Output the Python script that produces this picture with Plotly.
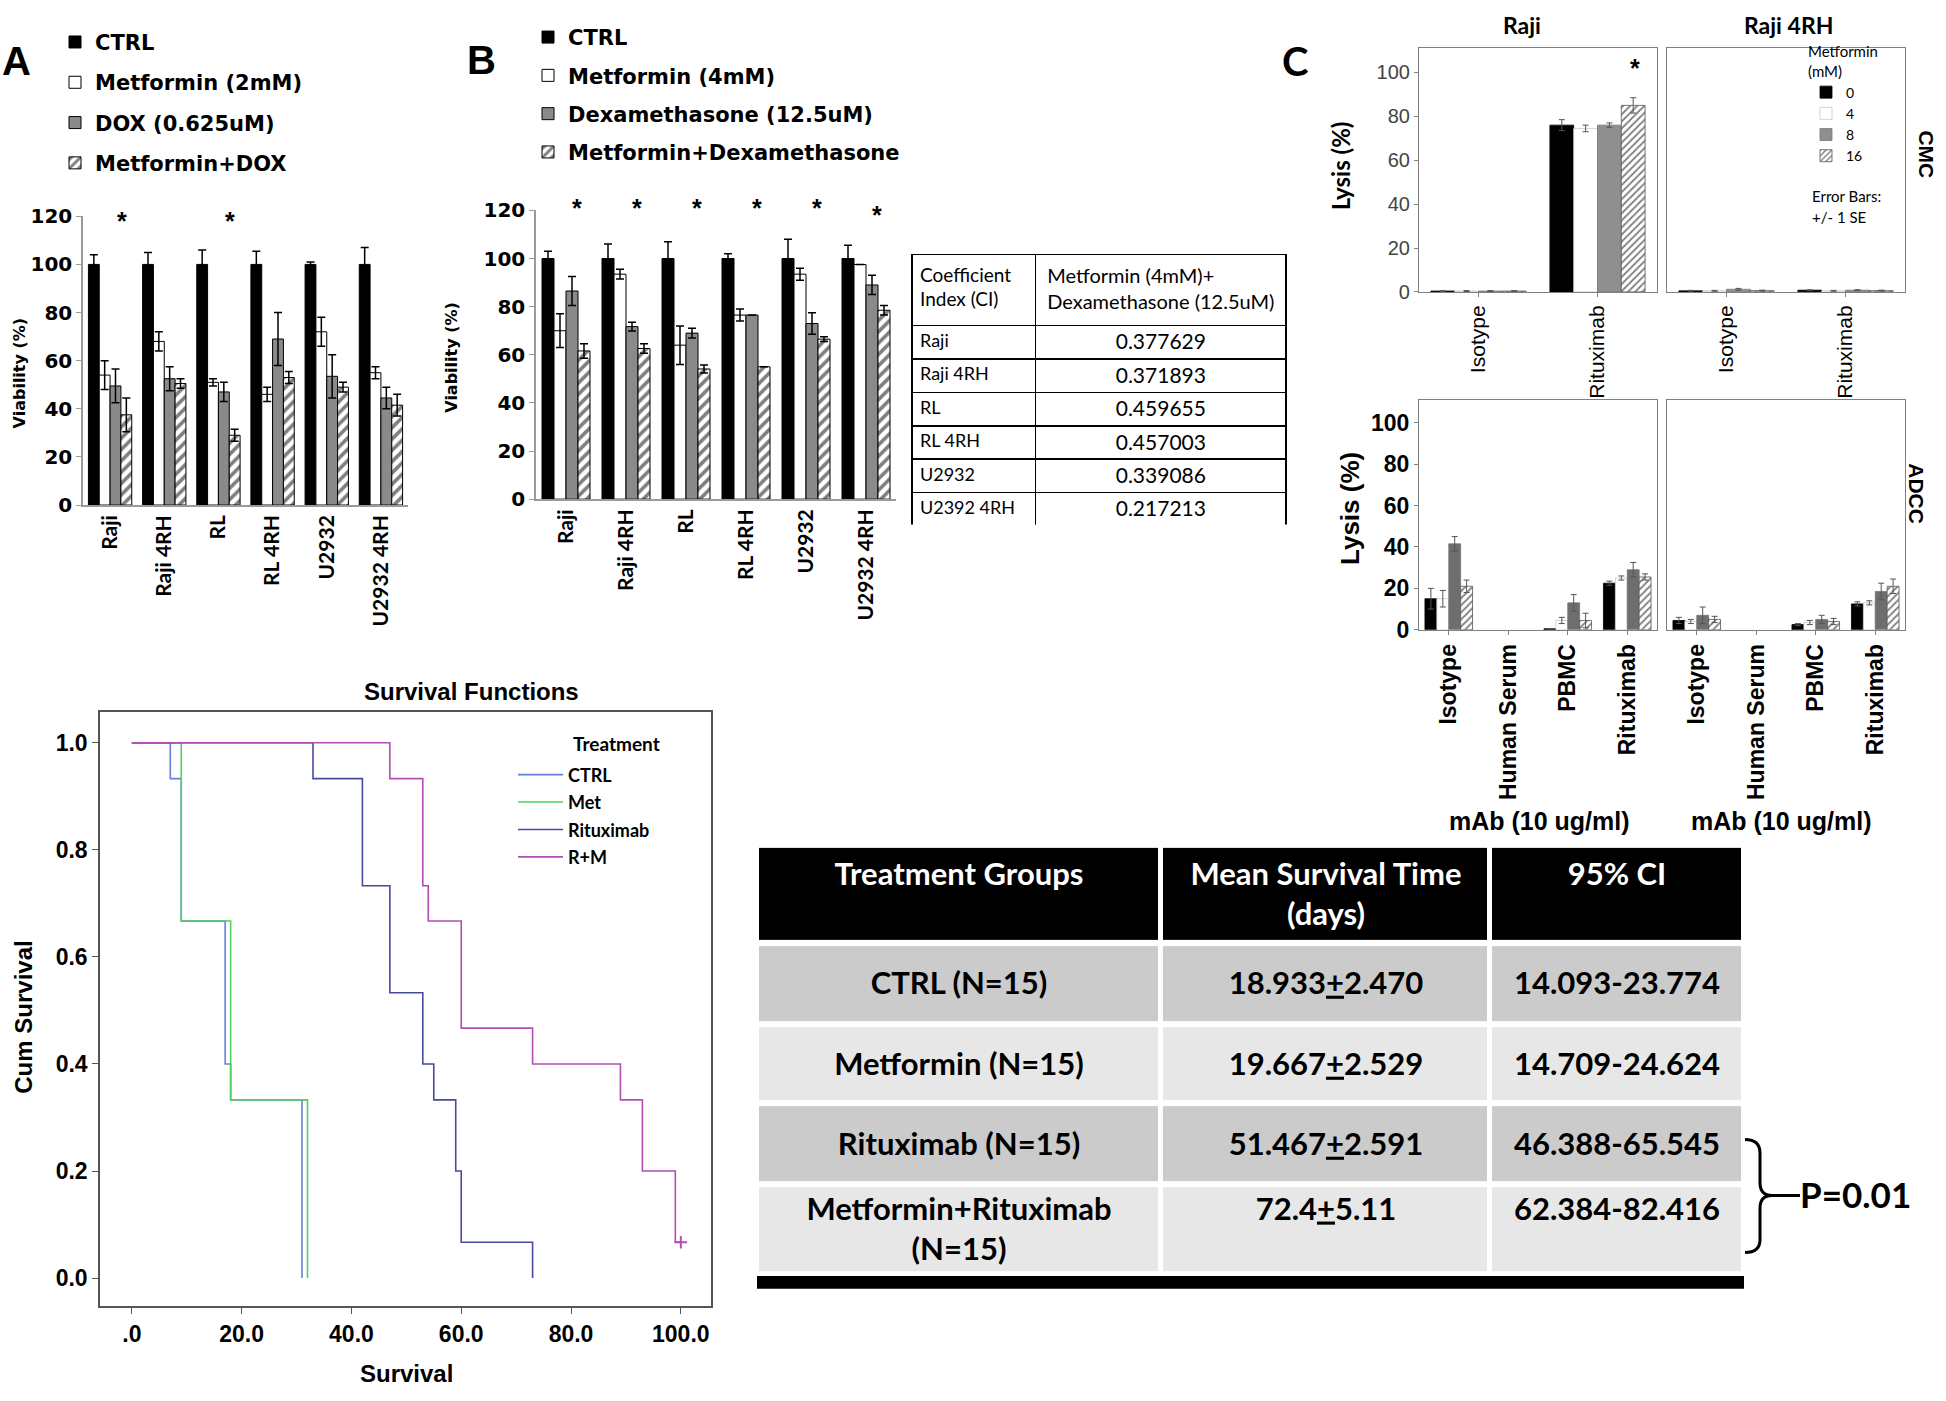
import plotly.graph_objects as go

W, H = 1946, 1401


def X(p):
    return p / W


def Y(p):
    return 1 - p / H


# ---------------- data ----------------
cell_lines = ["Raji", "Raji 4RH", "RL", "RL 4RH", "U2932", "U2932 4RH"]

a_names = ["CTRL", "Metformin (2mM)", "DOX (0.625uM)", "Metformin+DOX"]
a_ctrl = [100, 100, 100, 100, 100, 100]
a_ctrl_err = [4, 5, 6, 5.5, 1, 7]
a_met = [54, 68, 51, 46, 72, 55]
a_met_err = [6, 4, 1.5, 3, 6, 2.5]
a_dox = [49.5, 52.5, 47, 69, 53.5, 44.5]
a_dox_err = [7, 5, 4, 11, 9, 4.5]
a_combo = [37.5, 50.5, 29, 53, 49, 41.5]
a_combo_err = [7, 2, 2.5, 2.5, 2, 4.5]
a_star_lines = ["Raji", "RL"]
a_star_levels = [118, 118]

b_names = ["CTRL", "Metformin (4mM)", "Dexamethasone (12.5uM)", "Metformin+Dexamethasone"]
b_ctrl = [100, 100, 100, 100, 100, 100]
b_ctrl_err = [3, 6, 7, 2, 8, 5.5]
b_met = [70, 93.5, 64, 76.5, 93.5, 97.5]
b_met_err = [7, 2, 8, 2.5, 2.5, 0]
b_dox = [86.5, 71.7, 69, 76.5, 73, 89]
b_dox_err = [6, 1.8, 2, 0, 4.5, 4]
b_combo = [61.6, 62.6, 54.1, 55, 66.5, 78.5]
b_combo_err = [3, 2, 1.7, 0, 1, 2]
b_star_lines = ["Raji", "Raji 4RH", "RL", "RL 4RH", "U2932", "U2932 4RH"]
b_star_levels = [121, 121, 121, 121, 121, 118]

ci_header = ["Coefficient<br>Index (CI)", "Metformin (4mM)+<br>Dexamethasone (12.5uM)"]
ci_lines = ["Raji", "Raji 4RH", "RL", "RL 4RH", "U2932", "U2392 4RH"]
ci_values = ["0.377629", "0.371893", "0.459655", "0.457003", "0.339086", "0.217213"]

c_doses = ["0", "4", "8", "16"]
cmc_mabs = ["Isotype", "Rituximab"]
cmc_raji = [[0.4, 76.0], [0.4, 74.5], [0.4, 76.0], [0.4, 85.0]]
cmc_raji_err = [[0.2, 2.5], [0.2, 1.5], [0.2, 1.0], [0.2, 3.5]]
cmc_raji4rh = [[0.5, 0.8], [0.5, 0.5], [1.2, 0.8], [0.6, 0.6]]
cmc_raji4rh_err = [[0.2, 0.2], [0.2, 0.2], [0.4, 0.2], [0.2, 0.2]]
cmc_star_level = 102

adcc_mabs = ["Isotype", "Human Serum", "PBMC", "Rituximab"]
adcc_raji = [[15, None, 0.5, 22.5], [15, None, 4.5, 25], [41.5, None, 13, 29], [21, None, 4.5, 25.5]]
adcc_raji_err = [[5, 0, 0, 1], [4, 0, 1.5, 1], [3.5, 0, 4, 3.5], [3, 0, 3.5, 1.5]]
adcc_raji4rh = [[4.5, None, 2.5, 12.5], [4, None, 3.5, 13], [7, None, 5, 18.5], [5, None, 4, 21]]
adcc_raji4rh_err = [[1.5, 0, 0.5, 1], [1, 0, 1, 1], [4, 0, 2, 4], [1.5, 0, 1.5, 3.5]]

surv_groups = ["CTRL", "Met", "Rituximab", "R+M"]
surv_ctrl_t = [0, 7, 9, 17, 18, 31]
surv_ctrl_s = [1.0, 0.933, 0.667, 0.4, 0.333, 0.0]
surv_met_t = [0, 9, 18, 32]
surv_met_s = [1.0, 0.667, 0.333, 0.0]
surv_rit_t = [0, 33, 42, 47, 53, 55, 59, 60, 73]
surv_rit_s = [1.0, 0.933, 0.733, 0.533, 0.4, 0.333, 0.2, 0.067, 0.0]
surv_rm_t = [0, 47, 53, 54, 60, 73, 89, 93, 99, 100]
surv_rm_s = [1.0, 0.933, 0.733, 0.667, 0.467, 0.4, 0.333, 0.2, 0.067, 0.067]
surv_rm_censor_t = [100]
surv_rm_censor_s = [0.067]
surv_xticks = [0, 20, 40, 60, 80, 100]
surv_xticklabels = [".0", "20.0", "40.0", "60.0", "80.0", "100.0"]
surv_yticks = [0, 0.2, 0.4, 0.6, 0.8, 1.0]
surv_yticklabels = ["0.0", "0.2", "0.4", "0.6", "0.8", "1.0"]

tbl_header = ["Treatment Groups", "Mean Survival Time<br>(days)", "95% CI"]
tbl_groups = ["CTRL (N=15)", "Metformin (N=15)", "Rituximab (N=15)", "Metformin+Rituximab<br>(N=15)"]
tbl_means = ["18.933<u>+</u>2.470", "19.667<u>+</u>2.529", "51.467<u>+</u>2.591", "72.4<u>+</u>5.11"]
tbl_ci = ["14.093-23.774", "14.709-24.624", "46.388-65.545", "62.384-82.416"]
p_value_text = "P=0.01"

# ---------------- styles ----------------
AB_STY = [
    dict(color="black", line="black", pattern=""),
    dict(color="white", line="black", pattern=""),
    dict(color="#8a8a8a", line="black", pattern=""),
    dict(color="white", line="black", pattern="/"),
]
C_STY = [
    dict(color="black", line="black", pattern=""),
    dict(color="white", line="#c8c8c8", pattern=""),
    dict(color="#8f8f8f", line="#777777", pattern=""),
    dict(color="white", line="#555555", pattern="/"),
]
ADCC_GREY = "#6e6e6e"
SURV_COLORS = ["#6382d6", "#52d060", "#474b9e", "#b04fb4"]
ROW_FILLS = ["#cbcbcb", "#e7e7e7"]

BOLD_DV = "DejaVu Sans"
LATO = "Lato"
ARIAL = "Liberation Sans"

fig = go.Figure()


def add_bar(name, x, y, err, sty, xa, ya, legend, showlegend, group,
            psize=8, solid=0.45, ecolor="black", ethick=1.5, ewidth=4, lw=1, color=None):
    marker = dict(color=color or sty["color"], line=dict(color=sty["line"], width=lw))
    if sty["pattern"]:
        marker["pattern"] = dict(shape=sty["pattern"], fgcolor="black", bgcolor="white",
                                 size=psize, solidity=solid, fillmode="overlay")
    fig.add_trace(go.Bar(
        name=name, x=x, y=y, marker=marker, xaxis=xa, yaxis=ya,
        error_y=dict(type="data", array=err, color=ecolor, thickness=ethick, width=ewidth),
        legend=legend, showlegend=showlegend, legendgroup=group, hoverinfo="skip",
    ))


# Panel A
a_vals = [a_ctrl, a_met, a_dox, a_combo]
a_errs = [a_ctrl_err, a_met_err, a_dox_err, a_combo_err]
for i in range(4):
    add_bar(a_names[i], cell_lines, a_vals[i], a_errs[i], AB_STY[i], "x", "y", "legend", True, f"a{i}")

# Panel B
b_vals = [b_ctrl, b_met, b_dox, b_combo]
b_errs = [b_ctrl_err, b_met_err, b_dox_err, b_combo_err]
for i in range(4):
    add_bar(b_names[i], cell_lines, b_vals[i], b_errs[i], AB_STY[i], "x2", "y2", "legend2", True, f"b{i}")

# Panel C
c_sets = [
    (cmc_mabs, cmc_raji, cmc_raji_err, "x3", "y3", True, False),
    (cmc_mabs, cmc_raji4rh, cmc_raji4rh_err, "x4", "y4", False, False),
    (adcc_mabs, adcc_raji, adcc_raji_err, "x5", "y5", False, True),
    (adcc_mabs, adcc_raji4rh, adcc_raji4rh_err, "x6", "y6", False, True),
]
for mabs, vals, errs, xa, ya, show, adcc in c_sets:
    for i in range(4):
        col = ADCC_GREY if (adcc and i == 2) else None
        add_bar(c_doses[i], mabs, vals[i], errs[i], C_STY[i], xa, ya, "legend3", show, f"c{i}",
                psize=5, solid=0.35, ecolor="#555555", ethick=1, ewidth=3, lw=0.8, color=col)

# Survival curves
surv_t = [surv_ctrl_t, surv_met_t, surv_rit_t, surv_rm_t]
surv_s = [surv_ctrl_s, surv_met_s, surv_rit_s, surv_rm_s]
for i in range(4):
    fig.add_trace(go.Scatter(
        name=surv_groups[i], x=surv_t[i], y=surv_s[i], mode="lines",
        line=dict(shape="hv", color=SURV_COLORS[i], width=1.6),
        xaxis="x7", yaxis="y7", legend="legend4", legendgroup=f"s{i}", hoverinfo="skip",
    ))
fig.add_trace(go.Scatter(
    x=surv_rm_censor_t, y=surv_rm_censor_s, mode="markers",
    marker=dict(symbol="cross-thin", size=9, line=dict(color=SURV_COLORS[3], width=2)),
    xaxis="x7", yaxis="y7", showlegend=False, hoverinfo="skip",
))

# Coefficient index table
fig.add_trace(go.Table(
    domain=dict(x=[X(912), X(1287)], y=[Y(522), Y(247)]),
    columnwidth=[124, 251],
    header=dict(values=ci_header, align=["left", "center"], height=71,
                fill_color="white", line=dict(color="black", width=1.5),
                font=dict(family=LATO, size=[19, 20], color="black")),
    cells=dict(values=[ci_lines, ci_values], align=["left", "center"], height=33.4,
               fill_color="white", line=dict(color="black", width=1.5),
               font=dict(family=LATO, size=[18, 21], color="black")),
))

# Survival table drawn as heatmap cells (text centred in each cell, white gaps)
col_edges = [0, 404, 733, 987]
row_edges = [0, 100, 182, 263, 345, 437]


def pad_rows(rows):
    out = []
    for row in rows:
        n = max(s.count("<br>") for s in row)
        out.append(["<b>" + s + "<br>\u00a0" * (n - s.count("<br>")) + "</b>" for s in row])
    return out


hdr_rows = [["<b>" + h + ("" if "<br>" in h else "<br>\u00a0") + "</b>" for h in tbl_header]]
body_rows = pad_rows([list(r) for r in zip(tbl_groups, tbl_means, tbl_ci)])

fig.add_trace(go.Heatmap(
    x=col_edges, y=row_edges[:2], z=[[0] * len(tbl_header)], text=hdr_rows,
    texttemplate="%{text}", textfont=dict(family=LATO, size=31, color="white"),
    colorscale=[[0, "black"], [1, "black"]], showscale=False, xgap=5, ygap=6,
    xaxis="x8", yaxis="y8", hoverinfo="skip",
))
fig.add_trace(go.Heatmap(
    x=col_edges, y=row_edges[1:], z=[[k % 2] * 3 for k in range(len(tbl_groups))], text=body_rows,
    texttemplate="%{text}", textfont=dict(family=LATO, size=31, color="black"),
    colorscale=[[0, ROW_FILLS[0]], [1, ROW_FILLS[1]]], zmin=0, zmax=1, showscale=False,
    xgap=5, ygap=6, xaxis="x8", yaxis="y8", hoverinfo="skip",
))

# ---------------- axes ----------------
def ab_axes(xd, yd):
    xa = dict(domain=xd, showline=True, linecolor="#9a9a9a", linewidth=1.5, ticks="",
              tickangle=-90, tickfont=dict(family=LATO, size=21, color="black", weight="bold"),
              showgrid=False, zeroline=False)
    ya = dict(domain=yd, range=[0, 120], dtick=20, showline=True, linecolor="#9a9a9a",
              linewidth=1.5, ticks="outside", ticklen=5, tickcolor="#9a9a9a",
              tickfont=dict(family=BOLD_DV, size=20, color="black", weight="bold"),
              showgrid=False, zeroline=False)
    return xa, ya


xa1, ya1 = ab_axes([X(83), X(408)], [Y(502), Y(208)])
xa2, ya2 = ab_axes([X(536), X(896)], [Y(496), Y(202)])


def c_axes(xd, yd, adcc, showy):
    tf_x = dict(family=ARIAL, size=23 if adcc else 21, color="black", weight="bold" if adcc else "normal")
    tf_y = dict(family=ARIAL, size=23 if adcc else 20, color="black" if adcc else "#444444",
                weight="bold" if adcc else "normal")
    xa = dict(domain=xd, showline=True, mirror=True, linecolor="#808080", linewidth=1.2,
              ticks="outside", ticklen=4, tickcolor="#808080", tickangle=-90, tickfont=tf_x,
              showgrid=False, zeroline=False)
    ya = dict(domain=yd, range=[0, 111], tickvals=[0, 20, 40, 60, 80, 100], showline=True,
              mirror=True, linecolor="#808080", linewidth=1.2,
              ticks="outside" if showy else "", ticklen=4, tickcolor="#808080",
              showticklabels=showy, tickfont=tf_y, showgrid=False, zeroline=False)
    return xa, ya


xa3, ya3 = c_axes([X(1419), X(1657)], [Y(285), Y(37)], False, True)
xa4, ya4 = c_axes([X(1667), X(1905)], [Y(285), Y(37)], False, False)
xa5, ya5 = c_axes([X(1419), X(1657)], [Y(629), Y(395)], True, True)
xa6, ya6 = c_axes([X(1667), X(1905)], [Y(629), Y(395)], True, False)

xa7 = dict(domain=[X(100), X(711)], range=[-5.8, 105.5], tickvals=surv_xticks,
           ticktext=surv_xticklabels, showline=True, mirror=True, linecolor="#555555",
           linewidth=1.5, ticks="outside", ticklen=6, tickcolor="#555555",
           tickfont=dict(family=ARIAL, size=23, color="black", weight="bold"),
           showgrid=False, zeroline=False)
ya7 = dict(domain=[Y(1318), Y(713)], range=[-0.053, 1.057], tickvals=surv_yticks,
           ticktext=surv_yticklabels, showline=True, mirror=True, linecolor="#555555",
           linewidth=1.5, ticks="outside", ticklen=6, tickcolor="#555555",
           tickfont=dict(family=ARIAL, size=23, color="black", weight="bold"),
           showgrid=False, zeroline=False)

xa8 = dict(domain=[X(757), X(1744)], range=[col_edges[0], col_edges[-1]], visible=False,
           showgrid=False, zeroline=False)
ya8 = dict(domain=[Y(1285), Y(848)], range=[row_edges[-1], row_edges[0]], visible=False,
           showgrid=False, zeroline=False)

layout_axes = {}
for n, (xa, ya) in enumerate([(xa1, ya1), (xa2, ya2), (xa3, ya3), (xa4, ya4),
                              (xa5, ya5), (xa6, ya6), (xa7, ya7), (xa8, ya8)], start=1):
    sx = "" if n == 1 else str(n)
    xa["anchor"] = "y" + sx
    ya["anchor"] = "x" + sx
    layout_axes["xaxis" + sx] = xa
    layout_axes["yaxis" + sx] = ya

# ---------------- annotations ----------------
ann = []


def text(x, y, s, size, family=ARIAL, bold=True, angle=0, xanchor="center", yanchor="middle",
         color="black"):
    ann.append(dict(x=x, y=y, xref="paper", yref="paper", text=s, showarrow=False,
                    textangle=angle, xanchor=xanchor, yanchor=yanchor,
                    font=dict(family=family, size=size, color=color,
                              weight="bold" if bold else "normal")))


text(X(16), Y(50), "A", 40)
text(X(481), Y(49), "B", 40)
text(X(1295), Y(50), "C", 40, family=LATO)
text(X(19), Y(368), "Viability (%)", 16, family=BOLD_DV, angle=-90)
text(X(452), Y(352), "Viability (%)", 16, family=BOLD_DV, angle=-90)
text(X(1522), Y(13), "Raji", 23, family=LATO)
text(X(1788), Y(13), "Raji 4RH", 23, family=LATO)
text(X(1340), Y(157), "Lysis (%)", 24, family=LATO, angle=-90)
text(X(1350), Y(506), "Lysis (%)", 26, angle=-90)
text(X(1927), Y(145), "CMC", 21, angle=90)
text(X(1917), Y(490), "ADCC", 21, angle=90)
text(X(1539), Y(824), "mAb (10 ug/ml)", 25)
text(X(1781), Y(824), "mAb (10 ug/ml)", 25)
text(X(1810), Y(187), "Error Bars:", 15, family=LATO, bold=False, xanchor="left")
text(X(1810), Y(209), "+/- 1 SE", 15, family=LATO, bold=False, xanchor="left")
text(X(471), Y(692), "Survival Functions", 24)
text(X(24), Y(1024), "Cum Survival", 24, angle=-90)
text(X(406), Y(1386), "Survival", 24)
text(X(571), Y(745), "Treatment", 19, family=LATO, bold=True, xanchor="left")
text(X(1798), Y(1203), p_value_text, 35, family=LATO, xanchor="left")

STAR_FONT = dict(family=ARIAL, size=25, color="black", weight="bold")
for c, lv in zip(a_star_lines, a_star_levels):
    ann.append(dict(x=c, y=lv / 120, xref="x", yref="y domain", text="*", showarrow=False,
                    xshift=12, yanchor="middle", font=STAR_FONT))
for c, lv in zip(b_star_lines, b_star_levels):
    ann.append(dict(x=c, y=lv / 120, xref="x2", yref="y2 domain", text="*", showarrow=False,
                    xshift=11, yanchor="middle", font=STAR_FONT))
ann.append(dict(x="Rituximab", y=cmc_star_level / 111, xref="x3", yref="y3 domain", text="*",
                showarrow=False, xshift=37, yanchor="middle", font=STAR_FONT))

# ---------------- shapes ----------------
def P(x, y):
    return f"{X(x):.5f},{Y(y):.5f}"


brace = (f"M {P(1745, 1148)} Q {P(1760, 1148)} {P(1760, 1162)} L {P(1760, 1192)} "
         f"Q {P(1760, 1205)} {P(1772, 1205)} Q {P(1760, 1205)} {P(1760, 1218)} "
         f"L {P(1760, 1250)} Q {P(1760, 1263)} {P(1745, 1263)}")
shapes = [
    dict(type="path", path=brace, xref="paper", yref="paper", line=dict(color="black", width=3)),
    dict(type="line", x0=X(1772), x1=X(1800), y0=Y(1205), y1=Y(1205), xref="paper", yref="paper",
         line=dict(color="black", width=3)),
    dict(type="rect", x0=X(757), x1=X(1744), y0=Y(1300), y1=Y(1287), xref="paper", yref="paper",
         fillcolor="black", line=dict(width=0)),
]

legend_common = dict(bgcolor="rgba(0,0,0,0)", xanchor="left", yanchor="top", traceorder="grouped")
fig.update_layout(
    width=W, height=H, margin=dict(l=0, r=0, t=0, b=0),
    paper_bgcolor="white", plot_bgcolor="white",
    barmode="group", bargap=0.2, bargroupgap=0,
    annotations=ann, shapes=shapes,
    legend=dict(x=X(55), y=Y(10), font=dict(family=BOLD_DV, size=21, color="black", weight="bold"),
                tracegroupgap=10, **legend_common),
    legend2=dict(x=X(528), y=Y(5), font=dict(family=BOLD_DV, size=21, color="black", weight="bold"),
                 tracegroupgap=8, **legend_common),
    legend3=dict(x=X(1806), y=Y(26), font=dict(family=LATO, size=14, color="black"),
                 title=dict(text="Metformin<br>(mM)", font=dict(family=LATO, size=15)),
                 tracegroupgap=0, **legend_common),
    legend4=dict(x=X(513), y=Y(758), font=dict(family=LATO, size=18, color="black", weight="bold"),
                 tracegroupgap=1, itemwidth=45, **legend_common),
    showlegend=True,
    **layout_axes,
)

fig.write_html("out.html", config={"displayModeBar": False},
               post_script="document.body.style.margin='0px';")
